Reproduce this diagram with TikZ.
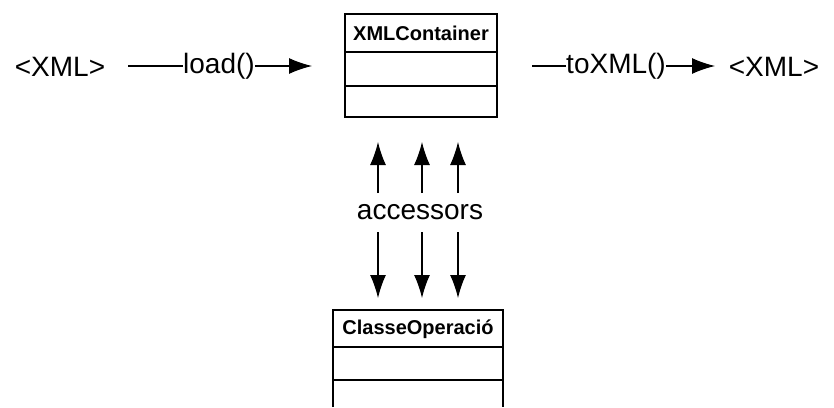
\documentclass[tikz,border=0pt]{standalone}
\usepackage{fontspec}
\setmainfont{Liberation Sans}
\usetikzlibrary{arrows.meta}

\begin{document}
\begin{tikzpicture}[x=1pt,y=-1pt,
  lbl/.style={inner sep=0pt,font=\fontsize{28}{30}\selectfont},
  ttl/.style={inner sep=0pt,font=\fontsize{20}{22}\selectfont\bfseries},
  arr/.style={-{Latex[length=23pt,width=16pt]},line width=1.2pt},
  ln/.style={line width=1.2pt}]
\useasboundingbox (0,0) rectangle (834,407);
% top row
\node[lbl] (xmlin) at (60,67) {<XML>};
\node[lbl] (load) at (219,66) {load()};
\coordinate (l0) at (128,66);
\coordinate (l1) at (312,66);
\draw[ln] (l0) -- (load.west);
\draw[arr] (load.east) -- (l1);
\node[lbl] (toxml) at (616,66) {toXML()};
\node[lbl] (xmlout) at (774,67) {<XML>};
\coordinate (t0) at (532,66);
\coordinate (t1) at (715,66);
\draw[ln] (t0) -- (toxml.west);
\draw[arr] (toxml.east) -- (t1);
% XMLContainer
\draw[ln] (345,14) rectangle (497,117);
\draw[ln] (345,52) -- (497,52);
\draw[ln] (345,86) -- (497,86);
\node[ttl] (xmlc) at (421,33) {XMLContainer};
% ClasseOperacio
\draw[ln] (333,407) -- (333,310) -- (503,310) -- (503,407);
\draw[ln] (333,347) -- (503,347);
\draw[ln] (333,380) -- (503,380);
\node[ttl] (oper) at (418,329) {ClasseOperació};
% accessors
\node[lbl] (acc) at (420,212) {accessors};
\foreach \i/\x in {1/378,2/422,3/458}{
  \coordinate (u\i) at (\x,193);
  \coordinate (ut\i) at (\x,142);
  \coordinate (d\i) at (\x,232);
  \coordinate (dt\i) at (\x,298);
  \draw[arr] (u\i) -- (ut\i);
  \draw[arr] (d\i) -- (dt\i);
}
\end{tikzpicture}
\end{document}
